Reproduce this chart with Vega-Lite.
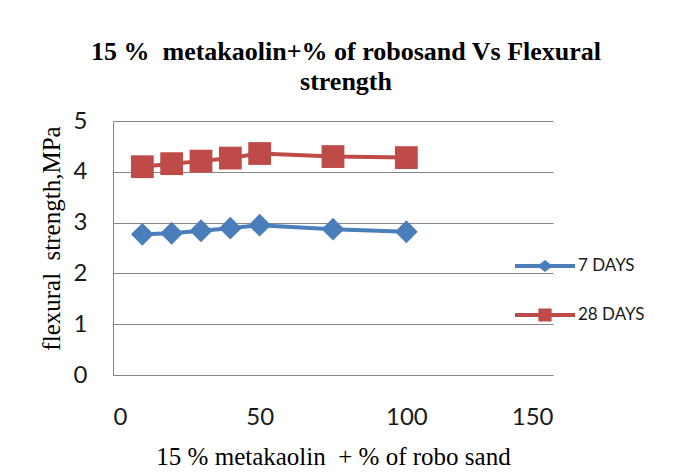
{
  "$schema": "https://vega.github.io/schema/vega-lite/v6.json",
  "autosize": {"type": "none"},
  "padding": {"left": 113, "top": 121, "right": 130, "bottom": 97},
  "width": 440,
  "height": 254,
  "background": "white",
  "title": {
    "text": ["15 %\u00a0 metakaolin+% of robosand Vs Flexural", "strength"],
    "font": "Liberation Serif",
    "fontSize": 26,
    "fontWeight": "bold",
    "color": "black",
    "anchor": "middle",
    "frame": "group",
    "dx": 13,
    "lineHeight": 30,
    "offset": 14
  },
  "data": {
    "values": [
      {"x": 10, "y": 2.77, "series": "7 DAYS"},
      {"x": 20, "y": 2.79, "series": "7 DAYS"},
      {"x": 30, "y": 2.84, "series": "7 DAYS"},
      {"x": 40, "y": 2.89, "series": "7 DAYS"},
      {"x": 50, "y": 2.95, "series": "7 DAYS"},
      {"x": 75, "y": 2.87, "series": "7 DAYS"},
      {"x": 100, "y": 2.82, "series": "7 DAYS"},
      {"x": 10, "y": 4.10, "series": "28 DAYS"},
      {"x": 20, "y": 4.16, "series": "28 DAYS"},
      {"x": 30, "y": 4.21, "series": "28 DAYS"},
      {"x": 40, "y": 4.27, "series": "28 DAYS"},
      {"x": 50, "y": 4.36, "series": "28 DAYS"},
      {"x": 75, "y": 4.30, "series": "28 DAYS"},
      {"x": 100, "y": 4.28, "series": "28 DAYS"}
    ]
  },
  "encoding": {
    "x": {
      "field": "x",
      "type": "quantitative",
      "scale": {"domain": [0, 150], "nice": false, "zero": false},
      "axis": {
        "values": [0, 50, 100, 150],
        "title": "15 % metakaolin\u00a0 + % of robo sand",
        "grid": false,
        "ticks": false,
        "domainColor": "#868686",
        "labelPadding": 30,
        "labelFont": "Lato",
        "labelFontSize": 24,
        "labelColor": "#1a1a1a",
        "titleFont": "Liberation Serif",
        "titleFontSize": 25,
        "titleFontWeight": "normal",
        "titleColor": "black",
        "titleY": 89,
        "titleBaseline": "alphabetic"
      }
    },
    "y": {
      "field": "y",
      "type": "quantitative",
      "scale": {"domain": [0, 5], "nice": false},
      "axis": {
        "values": [0, 1, 2, 3, 4, 5],
        "title": "flexural\u00a0 strength,MPa",
        "grid": true,
        "gridColor": "#868686",
        "gridWidth": 1,
        "ticks": false,
        "domainColor": "#868686",
        "labelPadding": 26,
        "labelFont": "Lato",
        "labelFontSize": 24,
        "labelColor": "#1a1a1a",
        "titleFont": "Liberation Serif",
        "titleFontSize": 25,
        "titleFontWeight": "normal",
        "titleColor": "black",
        "titleX": -62,
        "titleY": 117,
        "titleBaseline": "middle",
        "titleAngle": 270
      }
    }
  },
  "layer": [
    {
      "mark": {"type": "line", "strokeWidth": 4},
      "encoding": {
        "color": {
          "field": "series",
          "type": "nominal",
          "scale": {"domain": ["7 DAYS", "28 DAYS"], "range": ["#4A7EBB", "#BE4B48"]},
          "legend": null
        }
      }
    },
    {
      "mark": {"type": "point", "filled": true, "size": 520, "opacity": 1},
      "encoding": {
        "color": {
          "field": "series",
          "type": "nominal",
          "scale": {"domain": ["7 DAYS", "28 DAYS"], "range": ["#4A7EBB", "#BE4B48"]},
          "legend": null
        },
        "shape": {
          "field": "series",
          "type": "nominal",
          "scale": {"domain": ["7 DAYS", "28 DAYS"], "range": ["diamond", "square"]},
          "legend": null
        }
      }
    },
    {
      "mark": {"type": "point", "filled": true, "opacity": 0},
      "encoding": {
        "color": {
          "field": "series",
          "type": "nominal",
          "scale": {"domain": ["7 DAYS", "28 DAYS"], "range": ["#4A7EBB", "#BE4B48"]},
          "legend": {
            "orient": "none",
            "legendX": 402,
            "legendY": 115,
            "title": null,
            "symbolSize": 3600,
            "symbolOpacity": 1,
            "symbolStrokeWidth": 0,
            "labelFont": "Lato",
            "labelFontSize": 17,
            "labelColor": "#1a1a1a",
            "labelOffset": 3,
            "rowPadding": 11
          }
        },
        "shape": {
          "field": "series",
          "type": "nominal",
          "scale": {
            "domain": ["7 DAYS", "28 DAYS"],
            "range": [
              "M-1,-0.067L-0.17,-0.067L0,-0.2L0.17,-0.067L1,-0.067L1,0.067L0.17,0.067L0,0.2L-0.17,0.067L-1,0.067Z",
              "M-1,-0.067L-0.22,-0.067L-0.22,-0.22L0.22,-0.22L0.22,-0.067L1,-0.067L1,0.067L0.22,0.067L0.22,0.22L-0.22,0.22L-0.22,0.067L-1,0.067Z"
            ]
          },
          "legend": {
            "orient": "none",
            "legendX": 402,
            "legendY": 115,
            "title": null,
            "symbolSize": 3600,
            "symbolOpacity": 1,
            "symbolStrokeWidth": 0,
            "labelFont": "Lato",
            "labelFontSize": 17,
            "labelColor": "#1a1a1a",
            "labelOffset": 3,
            "rowPadding": 11
          }
        }
      }
    }
  ],
  "resolve": {"scale": {"shape": "independent", "color": "independent"}},
  "config": {"view": {"stroke": null}}
}
